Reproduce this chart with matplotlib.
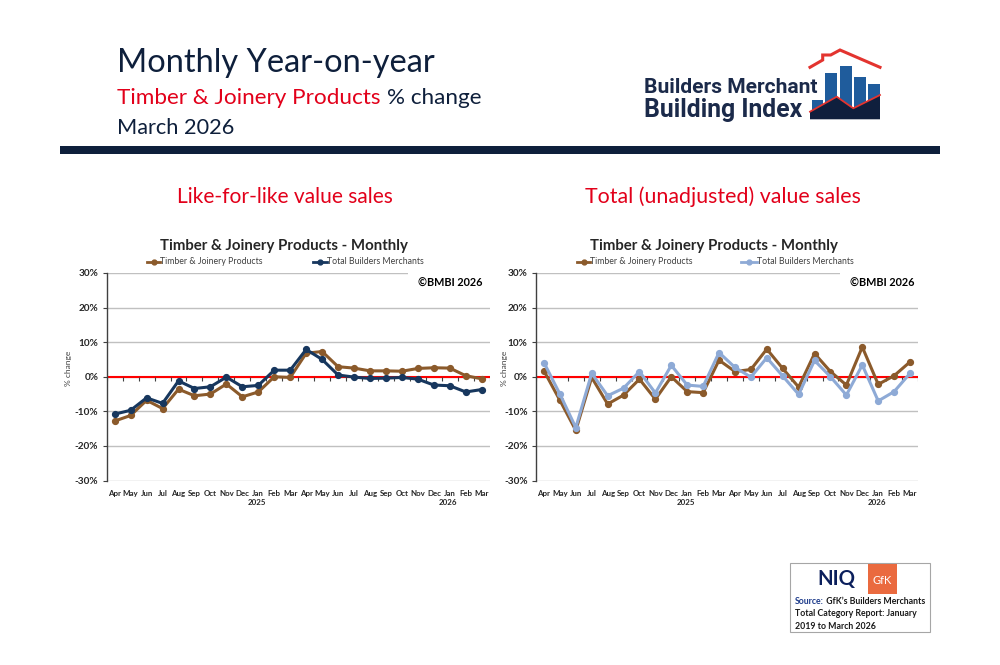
import matplotlib
matplotlib.use("Agg")
import matplotlib.pyplot as plt
from matplotlib.patches import Rectangle, Polygon
from matplotlib.lines import Line2D
import numpy as np

# ---------------- data ----------------
months = ["Apr", "May", "Jun", "Jul", "Aug", "Sep", "Oct", "Nov", "Dec", "Jan", "Feb", "Mar",
          "Apr", "May", "Jun", "Jul", "Aug", "Sep", "Oct", "Nov", "Dec", "Jan", "Feb", "Mar"]
year_labels = ["2025", "2026"]
year_label_pos = [9, 21]

lfl_timber = [-12.8, -11.2, -6.8, -9.2, -3.6, -5.5, -5.0, -2.1, -5.8, -4.4, 0.0, -0.2,
              6.8, 7.3, 2.9, 2.5, 1.7, 1.7, 1.6, 2.4, 2.6, 2.5, 0.3, -0.6]
lfl_total = [-10.8, -9.7, -6.1, -7.7, -1.2, -3.4, -2.9, -0.1, -2.9, -2.5, 1.9, 1.9,
             7.9, 5.0, 0.5, -0.1, -0.5, -0.4, -0.2, -0.7, -2.4, -2.6, -4.4, -3.7]

tot_timber = [1.7, -6.8, -15.5, -0.2, -7.9, -5.3, -0.7, -6.5, 0.0, -4.3, -4.6, 4.8,
              1.5, 2.1, 8.0, 2.4, -3.0, 6.7, 1.5, -2.4, 8.6, -2.2, 0.3, 4.3]
tot_total = [4.1, -5.0, -14.7, 1.0, -5.5, -3.3, 1.5, -4.7, 3.3, -2.4, -2.8, 7.0,
             2.7, -0.1, 5.5, 0.2, -5.1, 4.7, 0.0, -5.3, 3.4, -7.0, -4.3, 1.0]

series_names = ["Timber & Joinery Products", "Total Builders Merchants"]
chart_title = "Timber & Joinery Products - Monthly"
yticks = [-30, -20, -10, 0, 10, 20, 30]

# ---------------- style ----------------
W, H = 1000, 665
FONT = ["Lato", "DejaVu Sans"]
NARROW = ["Liberation Sans Narrow", "Roboto", "DejaVu Sans"]
NAVY = "#0e1f3b"
RED = "#e2001a"
BROWN = "#8b5a2b"
DKBLUE = "#17375e"
LTBLUE = "#8eaad6"
GRID = "#c0c0c0"
TXT = "#262626"

plt.rcParams["font.family"] = FONT

fig = plt.figure(figsize=(10, 6.65), dpi=100)
fig.patch.set_facecolor("white")
renderer = fig.canvas.get_renderer()

ov = fig.add_axes([0, 0, 1, 1])
ov.set_xlim(0, W)
ov.set_ylim(H, 0)
ov.axis("off")


def fit(x, y, s, width, **kw):
    t = ov.text(x, y, s, **kw)
    bb = t.get_window_extent(renderer)
    if bb.width > 0:
        t.set_fontsize(t.get_fontsize() * width / bb.width)
    return t


def width_of(t):
    return t.get_window_extent(renderer).width

# ---------------- header ----------------
fit(116.7, 71.7, "Monthly Year-on-year", 316, fontsize=22, color=NAVY, va="baseline", ha="left")
t1 = fit(116.7, 104, "Timber & Joinery Products", 264, fontsize=14, color=RED, va="baseline", ha="left")
ov.text(387.3, 104, "% change", fontsize=t1.get_fontsize(), color=NAVY, va="baseline", ha="left")
fit(116.7, 134, "March 2026", 118, fontsize=14, color=NAVY, va="baseline", ha="left")

ov.add_patch(Rectangle((60, 145.5), 880, 8, color=NAVY, lw=0))

# logo
fit(644, 93.3, "Builders Merchant", 173, fontsize=12, fontweight="bold", family=NARROW,
    color="#1b2a4a", va="baseline", ha="left")
fit(644, 116.5, "Building Index", 159, fontsize=15, fontweight="bold", family=NARROW,
    color="#1b2a4a", va="baseline", ha="left")
for (x0, x1, top) in [(811.7, 822.7, 100), (825, 836.7, 72.7), (840, 851.7, 65.7),
                      (854, 865.7, 76.7), (868.3, 880, 84.3)]:
    ov.add_patch(Rectangle((x0, top), x1 - x0, 119.3 - top, color="#1f5c9c", lw=0))
area = [(810, 111.7), (836.7, 96.7), (853.3, 108.3), (880, 95), (880, 119.3), (810, 119.3)]
ov.add_patch(Polygon(area, closed=True, color="#0f1f3d", lw=0))
ov.plot([810, 836.7, 853.3, 880], [111.7, 96.7, 108.3, 95], color="#e3342f", lw=1.3)
ov.plot([810, 822.7, 822.7, 830.7, 840, 880], [67.3, 60, 55, 55, 50, 67.3],
        color="#e3342f", lw=2.2, solid_joinstyle="miter")

# section titles
fit(285, 203, "Like-for-like value sales", 216, fontsize=15, color=RED, va="baseline", ha="center")
fit(722.5, 203, "Total (unadjusted) value sales", 277, fontsize=15, color=RED, va="baseline", ha="center")

# ---------------- charts ----------------
charts = [
    dict(left=106.7, right=489.7, a=lfl_timber, b=lfl_total, bcol=DKBLUE, cover=408,
         title_x=284, leg=[(147, 160, 160), (313, 327, 327)], bmbi=(483, 283), ylab=68),
    dict(left=536, right=918, a=tot_timber, b=tot_total, bcol=LTBLUE, cover=840,
         title_x=714, leg=[(577, 590, 590), (741, 757, 757)], bmbi=(915, 283), ylab=504),
]
top_px, bot_px = 273.0, 480.5
x = np.arange(len(months))

for c in charts:
    ax = fig.add_axes([c["left"] / W, 1 - bot_px / H, (c["right"] - c["left"]) / W,
                       (bot_px - top_px) / H])
    ax.set_facecolor("none")
    ax.set_xlim(-0.5, len(months) - 0.5)
    ax.set_ylim(-30, 30)
    ax.set_yticks(yticks)
    ax.set_yticklabels([f"{v}%" for v in yticks], fontsize=7.2, fontweight="bold", color=TXT)
    ax.yaxis.grid(True, color=GRID, lw=1)
    ax.set_axisbelow(True)
    for s in ["top", "right", "bottom"]:
        ax.spines[s].set_visible(False)
    ax.spines["left"].set_color("#404040")
    ax.spines["left"].set_linewidth(1)
    ax.tick_params(axis="y", direction="out", length=3, width=0.8, color="#404040", pad=3)
    ax.set_xticks(x)
    ax.set_xticklabels(months, fontsize=5.7, fontweight="bold", color=TXT)
    ax.tick_params(axis="x", length=0, pad=6.5)
    for yl, yp in zip(year_labels, year_label_pos):
        ax.text(yp - 0.1, -0.108, yl, transform=ax.get_xaxis_transform(), ha="center",
                va="center", fontsize=5.7, fontweight="bold", color=TXT)

    ax.axhline(0, color="#ff0000", lw=1.5, zorder=2)
    ax.vlines(np.arange(-0.5, len(months), 1.0), -1.2, 0, color="#404040", lw=0.8, zorder=2)

    ax.plot(x, c["a"], color=BROWN, lw=2.2, marker="o", ms=4.2, zorder=3)
    ax.plot(x, c["b"], color=c["bcol"], lw=2.2, marker="o", ms=4.2, zorder=4)

    # white box hiding top gridline behind copyright
    fx = (c["cover"] - c["left"]) / (c["right"] - c["left"])
    ax.add_patch(Rectangle((fx, 0.9), 1.02 - fx, 0.13, transform=ax.transAxes,
                           facecolor="white", edgecolor="none", zorder=2.5, clip_on=False))
    ax.text(c["bmbi"][0], c["bmbi"][1], "\u00a9BMBI 2026", fontsize=7.8, fontweight="bold",
            color="black", ha="right", va="center", zorder=6,
            transform=ov.transData)

    # chart title
    fit(c["title_x"], 246, chart_title, 248, fontsize=10, fontweight="bold",
        color=TXT, ha="center", va="center")
    # legend
    cols = [BROWN, c["bcol"]]
    for (lx0, lx1, tx), name, col in zip(c["leg"], series_names, cols):
        ov.add_line(Line2D([lx0, lx1], [262, 262], color=col, lw=2))
        ov.plot([(lx0 + lx1) / 2], [262], marker="o", ms=3.5, color=col)
        ov.text(tx, 262, name, fontsize=6.3, color="#404040", ha="left", va="center")
    # y label
    ov.text(c["ylab"], 368, "% change", fontsize=6, color="#404040", rotation=90,
            ha="center", va="center")

# ---------------- source box ----------------
ov.add_patch(Rectangle((790, 563.3), 140, 68.4, facecolor="white", edgecolor="#a6a6a6", lw=0.8))
fit(836, 579, "NIQ", 38, fontsize=12, fontweight="bold", color="#0b1f5c", ha="center", va="center")
ov.add_patch(Rectangle((868.3, 564.3), 28.4, 30, color="#ea6a3f", lw=0))
ov.text(882.5, 580, "GfK", fontsize=8, color="white", ha="center", va="center")
ts = fit(795, 604, "Source: GfK\u2019s Builders Merchants", 131, fontsize=7, fontweight="bold",
         color="#1a1a1a", va="baseline", ha="left")
fs = ts.get_fontsize()
ts.remove()
s1 = ov.text(795, 604, "Source:", fontsize=fs, fontweight="bold", color="#1f3d8c", va="baseline", ha="left")
w1 = width_of(s1)
ov.text(795 + w1, 604, " GfK\u2019s Builders Merchants", fontsize=fs, fontweight="bold",
        color="#1a1a1a", va="baseline", ha="left")
ov.text(795, 616.5, "Total Category Report: January", fontsize=fs, fontweight="bold",
        color="#1a1a1a", va="baseline", ha="left")
ov.text(795, 629, "2019 to March 2026", fontsize=fs, fontweight="bold",
        color="#1a1a1a", va="baseline", ha="left")

fig.savefig("out.png", dpi=100)
